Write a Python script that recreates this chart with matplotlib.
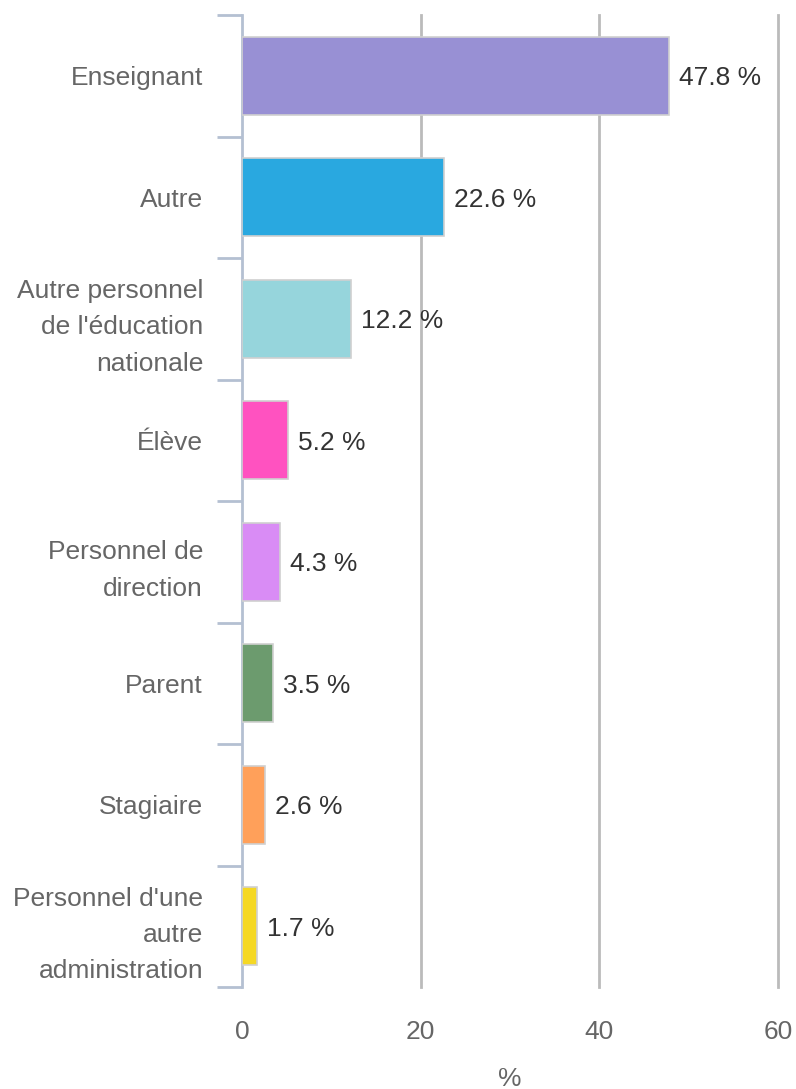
import matplotlib.pyplot as plt
import numpy as np

categories = ["Enseignant", "Autre", "Autre personnel\nde l'éducation\nnationale", "Élève",
              "Personnel de\ndirection", "Parent", "Stagiaire",
              "Personnel d'une\nautre\nadministration"]
values = [47.8, 22.6, 12.2, 5.2, 4.3, 3.5, 2.6, 1.7]
colors = ["#9890d4", "#29a8e0", "#96d5dc", "#ff52c0", "#d98cf5", "#6c9b6e", "#ffa05a", "#f5d824"]
x_ticks = [0, 20, 40, 60]

plt.rcParams['font.family'] = ['Liberation Sans', 'DejaVu Sans']

fig = plt.figure(figsize=(7.96, 10.89), dpi=100)
ax = fig.add_axes([242 / 796, 1 - 987 / 1089, (778 - 242) / 796, (987 - 15) / 1089])

n = len(categories)
y = np.arange(n)
ax.barh(y, values, height=0.64, color=colors, edgecolor="#d0d0d0", linewidth=1.2, zorder=3)
for yi, v in zip(y, values):
    ax.text(v + 1.1, yi + 0.02, f"{v} %", va="center", ha="left", fontsize=19, color="#333333")

ax.set_xlim(0, 60)
ax.set_ylim(n - 0.5, -0.5)

# grid lines
for t in x_ticks[1:]:
    ax.axvline(t, color="#bbbbbb", linewidth=2, zorder=1, clip_on=False)

for s in ["top", "right", "bottom"]:
    ax.spines[s].set_visible(False)
ax.spines["left"].set_color("#b4c0d2")
ax.spines["left"].set_linewidth(2)

ax.set_yticks(y)
ax.set_yticklabels(categories, fontsize=19, color="#666666", linespacing=1.65)
ax.tick_params(axis="y", length=0, pad=28)
# category boundary ticks
ax.set_yticks(np.arange(-0.5, n, 1), minor=True)
ax.tick_params(axis="y", which="minor", length=18, width=2, color="#b4c0d2")

ax.set_xticks(x_ticks)
ax.set_xticklabels([str(t) for t in x_ticks], fontsize=19, color="#666666")
ax.tick_params(axis="x", length=0, pad=24)
ax.set_xlabel("%", fontsize=19, color="#666666", labelpad=16)

fig.savefig("out.png", dpi=100)
